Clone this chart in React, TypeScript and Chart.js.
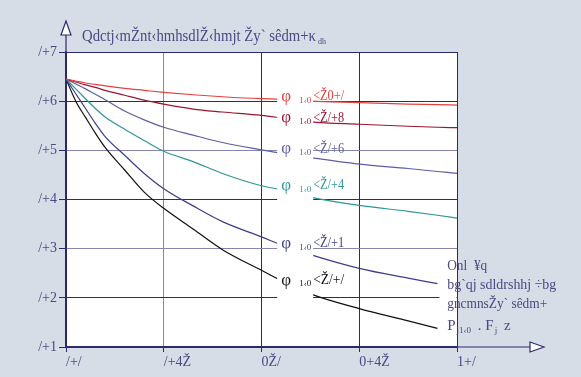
import React, { useEffect, useRef } from 'react';
import { Chart, registerables } from 'chart.js';
Chart.register(...registerables);

// ---------- data ----------
const X_VALUES = [0, 0.05, 0.1, 0.15, 0.2, 0.3, 0.4, 0.5, 0.65, 0.8, 1.0, 1.1, 1.25, 1.5, 1.75, 1.9, 2.0];
const PHI_1_0 = [0.745, 0.741, 0.737, 0.734, 0.731, 0.726, 0.722, 0.718, 0.713, 0.709, 0.705, 0.704, 0.700, 0.697, 0.694, 0.693, 0.692];
const PHI_0_9 = [0.745, 0.739, 0.733, 0.728, 0.722, 0.712, 0.702, 0.694, 0.684, 0.678, 0.671, 0.666, 0.658, 0.653, 0.649, 0.647, 0.646];
const PHI_0_7 = [0.745, 0.735, 0.725, 0.714, 0.703, 0.680, 0.662, 0.647, 0.631, 0.616, 0.601, 0.594, 0.585, 0.572, 0.563, 0.557, 0.553];
const PHI_0_5 = [0.745, 0.725, 0.705, 0.685, 0.668, 0.643, 0.620, 0.598, 0.577, 0.553, 0.528, 0.520, 0.505, 0.488, 0.476, 0.468, 0.462];
const PHI_0_2 = [0.745, 0.715, 0.685, 0.655, 0.628, 0.590, 0.553, 0.522, 0.487, 0.455, 0.424, 0.408, 0.388, 0.360, 0.340, 0.329, null];
const PHI_0_0 = [0.745, 0.700, 0.667, 0.635, 0.606, 0.560, 0.515, 0.482, 0.440, 0.398, 0.356, 0.335, 0.308, 0.278, 0.253, 0.238, null];

const SERIES = [PHI_1_0, PHI_0_9, PHI_0_7, PHI_0_5, PHI_0_2, PHI_0_0];
const SERIES_LABELS = ['<Ž0+/', '<Ž/+8', '<Ž/+6', '<Ž/+4', '<Ž/+1', '<Ž/+/'];
const SERIES_COLORS = ['#e4403f', '#9a1634', '#5d5ea3', '#2f9795', '#3d3d8c', '#111111'];
const LABEL_ANCHOR_X = 1.08;
const LABEL_ANCHOR_Y = [0.710, 0.666, 0.603, 0.529, 0.411, 0.336];

const X_TICK_LABELS = ['/+/', '/+4Ž', '0Ž/', '0+4Ž', '1+/'];
const Y_TICK_LABELS = ['/+1', '/+2', '/+3', '/+4', '/+5', '/+6', '/+7'];
const TITLE = 'Qdctj‹mŽnt‹hmhsdlŽ‹hmjt Žy` sêdm+κ';
const TITLE_SUB = 'dh';
const NOTE_LINES = ['Onl  ¥q', 'bg`qj sdldrshhj ÷bg', 'gncmnsŽy` sêdm+'];
const NOTE_LAST = ['P', 'j1‹0', ' . F', 'j', ' z'];

const NAVY = '#2b2b6b';
const LIGHT = '#8585ad';
const TEXT = '#4a4a82';
const BG = '#d6dde6';
const SERIF = '"Liberation Serif", "DejaVu Serif", serif';

function fitText(ctx: CanvasRenderingContext2D, text: string, x: number, y: number, w: number) {
  const m = ctx.measureText(text).width;
  ctx.save();
  ctx.translate(x, y);
  ctx.scale(w / m, 1);
  ctx.fillText(text, 0, 0);
  ctx.restore();
}

const decor = {
  id: 'decor',
  beforeDraw(chart: any) {
    const { ctx, chartArea: a, width, height } = chart;
    ctx.save();
    ctx.fillStyle = BG;
    ctx.fillRect(0, 0, width, height);
    ctx.fillStyle = '#ffffff';
    ctx.fillRect(a.left, a.top, a.right - a.left, a.bottom - a.top);
    ctx.restore();
  },
  afterDatasetsDraw(chart: any) {
    const { ctx, chartArea: a } = chart;
    const xs = chart.scales.x;
    const ys = chart.scales.y;
    ctx.save();
    // curve labels
    const lx = xs.getPixelForValue(LABEL_ANCHOR_X);
    SERIES_LABELS.forEach((lab, i) => {
      const cy = ys.getPixelForValue(LABEL_ANCHOR_Y[i]);
      ctx.fillStyle = '#ffffff';
      ctx.fillRect(lx, cy - 12, 36, 32);
      ctx.fillStyle = SERIES_COLORS[i];
      ctx.textBaseline = 'middle';
      ctx.textAlign = 'left';
      ctx.font = `17px ${SERIF}`;
      ctx.fillText('φ', lx + 4, cy);
      ctx.font = `9px ${SERIF}`;
      ctx.fillText('1‹0', lx + 22, cy + 4);
      ctx.font = `15px ${SERIF}`;
      fitText(ctx, lab, lx + 36, cy, 31);
    });
    // note box
    const nx = xs.getPixelForValue(1.95);
    const boxL = xs.getPixelForValue(1.91);
    const nTop = ys.getPixelForValue(0.385);
    ctx.fillStyle = '#ffffff';
    ctx.fillRect(boxL, nTop, a.right - boxL - 0.5, a.bottom - nTop - 1);
    ctx.fillStyle = TEXT;
    ctx.textBaseline = 'middle';
    ctx.font = `14px ${SERIF}`;
    const widths = [40, 109, 100];
    NOTE_LINES.forEach((t, i) => {
      fitText(ctx, t, nx, ys.getPixelForValue(0.365 - i * 0.039), widths[i]);
    });
    const ly = ys.getPixelForValue(0.243);
    let px = nx;
    NOTE_LAST.forEach((t, i) => {
      const sub = i % 2 === 1;
      ctx.font = sub ? `9px ${SERIF}` : `15px ${SERIF}`;
      ctx.fillText(t, px, sub ? ly + 5 : ly);
      px += ctx.measureText(t).width + (sub ? 3 : 1);
    });
    ctx.restore();
  },
  afterDraw(chart: any) {
    const { ctx, chartArea: a } = chart;
    ctx.save();
    ctx.strokeStyle = NAVY;
    ctx.lineWidth = 1.2;
    // axis extensions
    ctx.beginPath();
    ctx.moveTo(a.left, a.top);
    ctx.lineTo(a.left, 35);
    ctx.moveTo(a.right, a.bottom);
    ctx.lineTo(531, a.bottom);
    ctx.stroke();
    // arrows
    ctx.fillStyle = '#ffffff';
    ctx.beginPath();
    ctx.moveTo(a.left, 21);
    ctx.lineTo(a.left - 5, 35);
    ctx.lineTo(a.left + 5, 35);
    ctx.closePath();
    ctx.fill();
    ctx.stroke();
    ctx.beginPath();
    ctx.moveTo(544, a.bottom);
    ctx.lineTo(530, a.bottom - 5);
    ctx.lineTo(530, a.bottom + 5);
    ctx.closePath();
    ctx.fill();
    ctx.stroke();
    // title
    ctx.fillStyle = TEXT;
    ctx.textBaseline = 'alphabetic';
    ctx.font = `17px ${SERIF}`;
    fitText(ctx, TITLE, 82, 41, 234);
    ctx.font = `8px ${SERIF}`;
    ctx.fillText(TITLE_SUB, 318, 44);
    ctx.restore();
  },
};

export default function App() {
  const ref = useRef<HTMLCanvasElement | null>(null);
  useEffect(() => {
    document.body.style.margin = '0';
    document.body.style.background = BG;
    const canvas = ref.current!;
    const chart = new Chart(canvas, {
      type: 'line',
      data: {
        datasets: SERIES.map((s, i) => ({
          label: SERIES_LABELS[i],
          data: X_VALUES.map((x, j) => ({ x, y: s[j] })).filter((p) => p.y !== null),
          borderColor: SERIES_COLORS[i],
          borderWidth: 1.2,
          pointRadius: 0,
          fill: false,
          cubicInterpolationMode: 'monotone',
        })),
      },
      options: {
        animation: false,
        responsive: false,
        devicePixelRatio: 1,
        layout: { padding: { top: 52, right: 124, left: 0, bottom: 0 } },
        plugins: { legend: { display: false }, tooltip: { enabled: false } },
        scales: {
          x: {
            type: 'linear',
            min: 0,
            max: 2,
            afterFit: (s: any) => { s.height = 30; },
            ticks: {
              stepSize: 0.5,
              align: 'start',
              padding: 2,
              color: TEXT,
              font: { family: SERIF, size: 14 },
              callback: (_v: any, i: number) => X_TICK_LABELS[i],
              maxRotation: 0,
            },
            grid: {
              color: (c: any) => (c.tick && Math.abs(c.tick.value - 0.5) < 1e-6 ? LIGHT : NAVY),
              tickColor: NAVY,
              tickLength: 5,
              lineWidth: 1,
            },
            border: { color: NAVY, width: 1.5 },
          },
          y: {
            min: 0.2,
            max: 0.8,
            afterFit: (s: any) => { s.width = 66; },
            ticks: {
              stepSize: 0.1,
              padding: 2,
              color: TEXT,
              font: { family: SERIF, size: 14 },
              callback: (_v: any, i: number) => Y_TICK_LABELS[i],
            },
            grid: {
              color: (c: any) => (c.index === 2 || c.index === 4 ? LIGHT : NAVY),
              tickColor: NAVY,
              tickLength: 7,
              lineWidth: 1,
            },
            border: { color: NAVY, width: 1.5 },
          },
        },
      },
      plugins: [decor],
    } as any);
    return () => chart.destroy();
  }, []);
  return (
    <div style={{ width: 581, height: 377, background: BG }}>
      <canvas ref={ref} width={581} height={377} style={{ display: 'block' }} />
    </div>
  );
}
